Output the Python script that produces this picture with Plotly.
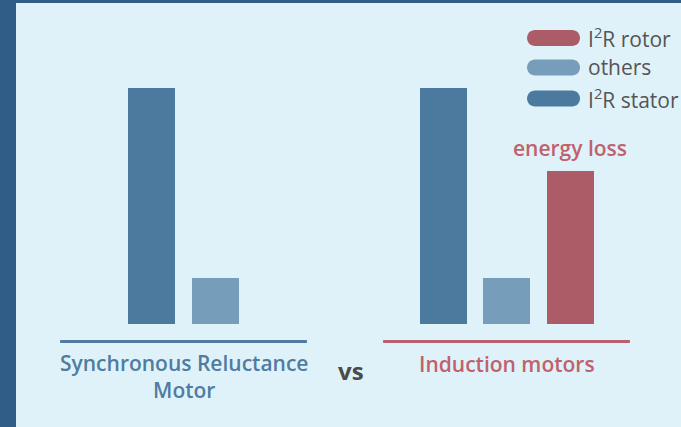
import plotly.graph_objects as go

# ---- data ----
groups = ["Synchronous Reluctance<br>Motor", "Induction motors"]
series_names = ["I<sup>2</sup>R stator", "others", "I<sup>2</sup>R rotor"]
stator = [100, 100]
others = [19.5, 19.5]
rotor = [None, 65]
annotation_text = "energy loss"

colors = {"stator": "#4c7a9e", "others": "#769eba", "rotor": "#ab5c67"}
group_colors = ["#4f7ca0", "#b8606c"]
BG = "#dff2fa"
BORDER = "#2f5d88"
FONT = "Open Sans"

# ---- layout helpers ----
pitch = 0.1966
bar_w = 0.1455
half_line = 0.382
group_x = [0, 1]

series = [("stator", stator), ("others", others), ("rotor", rotor)]

fig = go.Figure()
positions = {k: [] for k, _ in series}
for gi, gx in enumerate(group_x):
    present = [k for k, v in series if v[gi] is not None]
    n = len(present)
    for i, k in enumerate(present):
        positions[k].append((gx + (i - (n - 1) / 2) * pitch, dict(series)[k][gi]))

for k, _ in series:
    xs = [p[0] for p in positions[k]]
    ys = [p[1] for p in positions[k]]
    fig.add_trace(go.Bar(x=xs, y=ys, width=bar_w, marker_color=colors[k],
                         marker_line_width=0, showlegend=False, hoverinfo="skip"))

# baselines + group labels
for gi, gx in enumerate(group_x):
    fig.add_shape(type="line", x0=gx - half_line, x1=gx + half_line, y0=-7.4, y1=-7.4,
                  line=dict(color=group_colors[gi], width=3))
fig.add_annotation(x=group_x[0], y=-22.2, text=groups[0], showarrow=False,
                   font=dict(family=FONT, size=21, color=group_colors[0], weight=600))
fig.add_annotation(x=group_x[1], y=-16.9, text=groups[1], showarrow=False,
                   font=dict(family=FONT, size=21, color="#c0616c", weight=600))
fig.add_annotation(x=(group_x[0] + group_x[1]) / 2, y=-19.5, xshift=6, text="vs", showarrow=False,
                   font=dict(family=FONT, size=24, color="#4a4a4a", weight=700))

# energy loss label over rotor bar
rx, ry = positions["rotor"][0]
fig.add_annotation(x=rx, y=ry, yshift=23, text=annotation_text, showarrow=False,
                   font=dict(family=FONT, size=21, color="#c0616c", weight=600))

# custom legend
legend_items = [("rotor", series_names[2]), ("others", series_names[1]), ("stator", series_names[0])]
legend_y = [0.9175, 0.848, 0.775]
sw_x = 0.8083
pill = ("M -18.5,-8 L 18.5,-8 C 23,-8 26.5,-4.4 26.5,0 C 26.5,4.4 23,8 18.5,8 "
        "L -18.5,8 C -23,8 -26.5,4.4 -26.5,0 C -26.5,-4.4 -23,-8 -18.5,-8 Z")
for (k, name), ly in zip(legend_items, legend_y):
    fig.add_shape(type="path", path=pill, xref="paper", yref="paper",
                  xsizemode="pixel", ysizemode="pixel", xanchor=sw_x, yanchor=ly,
                  fillcolor=colors[k], line_width=0)
    fig.add_annotation(x=0.857, y=ly, xref="paper", yref="paper", xanchor="left",
                       yanchor="middle", text=name, showarrow=False,
                       font=dict(family=FONT, size=21, color="#555555"))

fig.update_layout(
    width=681, height=427,
    margin=dict(l=16, r=0, t=3, b=0),
    paper_bgcolor=BORDER, plot_bgcolor=BG,
    xaxis=dict(range=[-0.5186, 1.5402], visible=False, fixedrange=True),
    yaxis=dict(range=[-43.64, 136.02], visible=False, fixedrange=True),
    bargap=0,
)
fig.write_html("out.html", config={"displayModeBar": False},
               post_script="document.body.style.margin='0';document.body.style.overflow='hidden';")
